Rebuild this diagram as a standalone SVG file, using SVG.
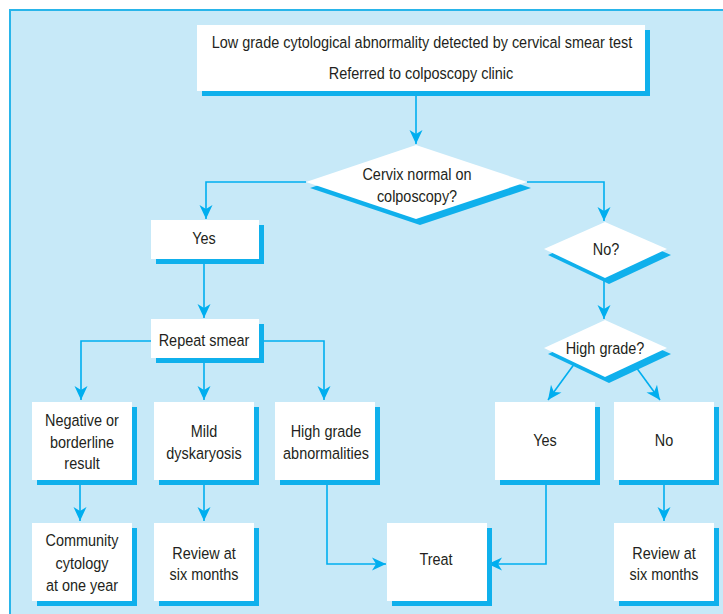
<svg xmlns="http://www.w3.org/2000/svg" width="723" height="614" viewBox="0 0 723 614">
<defs>
<style>
.bg{fill:#c7e9f8;stroke:#29b5ea;stroke-width:2}
.box{fill:#ffffff}
.sh{fill:#0fb0ec}
.t{font-family:"Liberation Sans",Arial,sans-serif;font-size:16.5px;fill:#231f20;text-anchor:middle}
.c{fill:none;stroke:#00aeef;stroke-width:1.6;marker-end:url(#ah)}
</style>
<marker id="ah" markerUnits="userSpaceOnUse" viewBox="-15 -7 16 14" refX="0" refY="0" markerWidth="16" markerHeight="14" orient="auto">
<path d="M-14,-6.5 L0,0 L-14,6.5 L-10,0 z" fill="#00aeef"/>
</marker>
</defs>
<rect class="bg" x="10" y="10" width="720" height="612"/>
<g id="connectors">
<path class="c" d="M416,91 V144"/>
<path class="c" d="M306,182 H206 V219"/>
<path class="c" d="M527,182 H604 V221"/>
<path class="c" d="M204,259 V318"/>
<path class="c" d="M151,341 H81 V400"/>
<path class="c" d="M204,358 V400"/>
<path class="c" d="M259,341 H324 V400"/>
<path class="c" d="M80,480 V521"/>
<path class="c" d="M204,480 V521"/>
<path class="c" d="M327,480 V564 H386"/>
<path class="c" d="M546,480 V564 H488"/>
<path class="c" d="M664,480 V521"/>
<path class="c" d="M604,278 V319"/>
<path class="c" d="M575,363 L548,400"/>
<path class="c" d="M633,363 L660,400"/>
</g>
<g id="start">
<rect class="sh" x="202" y="30" width="448" height="66"/>
<rect class="box" x="197" y="25" width="448" height="66"/>
<text class="t" transform="translate(422 48) scale(0.875 1)">Low grade cytological abnormality detected by cervical smear test</text>
<text class="t" transform="translate(421 79) scale(0.875 1)">Referred to colposcopy clinic</text>
</g>
<g id="cervix-normal">
<polygon class="sh" points="420,151 531,188 420,225 310,188"/>
<polygon class="box" points="416,145 527,182 416,219 306,182"/>
<text class="t" transform="translate(417 180) scale(0.875 1)">Cervix normal on</text>
<text class="t" transform="translate(417 202) scale(0.875 1)">colposcopy?</text>
</g>
<g id="yes">
<rect class="sh" x="156" y="225" width="108" height="39"/>
<rect class="box" x="151" y="220" width="108" height="39"/>
<text class="t" transform="translate(204 244) scale(0.875 1)">Yes</text>
</g>
<g id="repeat-smear">
<rect class="sh" x="156" y="324" width="108" height="39"/>
<rect class="box" x="151" y="319" width="108" height="39"/>
<text class="t" transform="translate(204 346) scale(0.875 1)">Repeat smear</text>
</g>
<g id="negative">
<rect class="sh" x="37" y="407" width="100" height="78"/>
<rect class="box" x="32" y="402" width="100" height="78"/>
<text class="t" transform="translate(82 426) scale(0.875 1)">Negative or</text>
<text class="t" transform="translate(82 448) scale(0.875 1)">borderline</text>
<text class="t" transform="translate(82 469) scale(0.875 1)">result</text>
</g>
<g id="mild">
<rect class="sh" x="159" y="407" width="100" height="78"/>
<rect class="box" x="154" y="402" width="100" height="78"/>
<text class="t" transform="translate(204 437) scale(0.875 1)">Mild</text>
<text class="t" transform="translate(204 459) scale(0.875 1)">dyskaryosis</text>
</g>
<g id="high-grade-abn">
<rect class="sh" x="280" y="407" width="100" height="78"/>
<rect class="box" x="275" y="402" width="100" height="78"/>
<text class="t" transform="translate(326 437) scale(0.875 1)">High grade</text>
<text class="t" transform="translate(326 459) scale(0.875 1)">abnormalities</text>
</g>
<g id="community">
<rect class="sh" x="37" y="528" width="100" height="78"/>
<rect class="box" x="32" y="523" width="100" height="78"/>
<text class="t" transform="translate(82 546) scale(0.875 1)">Community</text>
<text class="t" transform="translate(82 569) scale(0.875 1)">cytology</text>
<text class="t" transform="translate(82 591) scale(0.875 1)">at one year</text>
</g>
<g id="review-left">
<rect class="sh" x="159" y="528" width="100" height="78"/>
<rect class="box" x="154" y="523" width="100" height="78"/>
<text class="t" transform="translate(204 559) scale(0.875 1)">Review at</text>
<text class="t" transform="translate(204 580) scale(0.875 1)">six months</text>
</g>
<g id="treat">
<rect class="sh" x="392" y="528" width="100" height="78"/>
<rect class="box" x="387" y="523" width="100" height="78"/>
<text class="t" transform="translate(436 565) scale(0.875 1)">Treat</text>
</g>
<g id="no-q">
<polygon class="sh" points="609,228 671,255 609,284 548,255"/>
<polygon class="box" points="605,222 667,249 605,278 544,249"/>
<text class="t" transform="translate(606 255) scale(0.875 1)">No?</text>
</g>
<g id="high-grade-q">
<polygon class="sh" points="609,326 671,354 609,383 548,354"/>
<polygon class="box" points="605,320 667,348 605,377 544,348"/>
<text class="t" transform="translate(605 354) scale(0.875 1)">High grade?</text>
</g>
<g id="yes-right">
<rect class="sh" x="500" y="407" width="100" height="78"/>
<rect class="box" x="495" y="402" width="100" height="78"/>
<text class="t" transform="translate(545 446) scale(0.875 1)">Yes</text>
</g>
<g id="no">
<rect class="sh" x="619" y="407" width="100" height="78"/>
<rect class="box" x="614" y="402" width="100" height="78"/>
<text class="t" transform="translate(664 446) scale(0.875 1)">No</text>
</g>
<g id="review-right">
<rect class="sh" x="619" y="528" width="100" height="78"/>
<rect class="box" x="614" y="523" width="100" height="78"/>
<text class="t" transform="translate(664 559) scale(0.875 1)">Review at</text>
<text class="t" transform="translate(664 580) scale(0.875 1)">six months</text>
</g>
</svg>
